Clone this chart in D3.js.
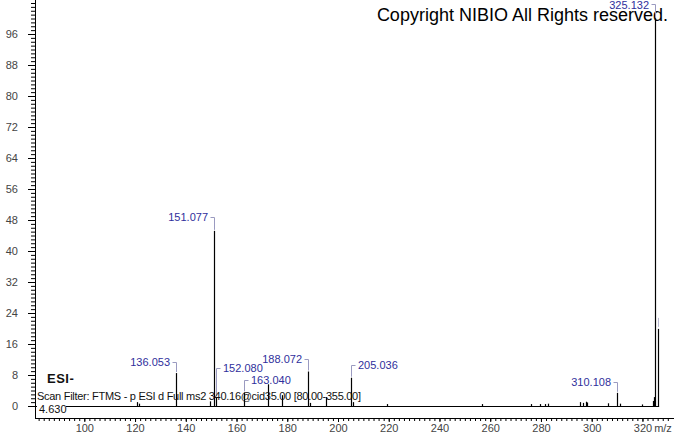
<!DOCTYPE html>
<html>
<head>
<meta charset="utf-8">
<script src="https://cdn.jsdelivr.net/npm/d3@7"></script>
<style>
  body { margin: 0; background: #fff; }
  svg { display: block; font-family: "Liberation Sans", Arial, sans-serif; }
</style>
</head>
<body>
<div id="chart"></div>
<script>
// spectrum peaks (m/z, relative abundance)
var peakMz  = [120.9, 121.6, 136.053, 149.6, 151.077, 152.080, 163.040, 172.6, 178.1, 188.072, 189.1, 195.1,
               205.036, 206.0, 219.2, 256.6, 276.2, 279.5, 281.5, 282.6, 295.2, 296.4, 297.8, 298.2,
               306.4, 310.108, 311.3, 319.7, 324.0, 324.6, 325.132, 326.135];
var peakInt = [1.0, 0.6, 8.5, 1.2, 45.2, 2.3, 3.5, 5.6, 2.8, 8.9, 0.8, 2.3,
               7.3, 1.0, 0.5, 0.5, 0.5, 0.5, 0.5, 0.6, 1.0, 0.8, 1.1, 0.9,
               0.7, 3.4, 0.6, 0.4, 1.3, 2.3, 100, 19.9];

// annotated peaks
var labelMz   = [136.053, 151.077, 152.080, 163.040, 188.072, 205.036, 310.108, 325.132];
var labelText = ["136.053", "151.077", "152.080", "163.040", "188.072", "205.036", "310.108", "325.132"];
var labelSide = ["left", "left", "right", "right", "left", "right", "left", "left"];

var xTicks = d3.range(100, 321, 20);
var yTicks = d3.range(0, 97, 8);

var W = 674, H = 434;
var BASE_Y = 406, AXIS_Y = 418, AXIS_X = 35;
// pixel lift of each label above its peak top
var LABEL_LIFT = [10, 13, 28, 11, 12, 12, 10, 13];

var x = d3.scaleLinear().domain([100, 320]).range([84.3, 84.3 + 220 * 2.537]);
var y = d3.scaleLinear().domain([0, 96]).range([BASE_Y, BASE_Y - 96 * 3.875]);

var svg = d3.select("#chart").append("svg")
    .attr("width", W)
    .attr("height", H);

// copyright
svg.append("text")
    .attr("x", 668).attr("y", 21)
    .attr("text-anchor", "end")
    .attr("font-size", 18)
    .attr("fill", "#000")
    .text("Copyright NIBIO All Rights reserved.");

// y axis
var yMinor = svg.append("g").attr("transform", "translate(" + AXIS_X + ",0)")
    .call(d3.axisLeft(y).tickValues(d3.range(0, 105, 1)).tickSize(4).tickFormat(""));
yMinor.select(".domain").remove();
var yMajor = svg.append("g").attr("transform", "translate(" + AXIS_X + ",0)")
    .call(d3.axisLeft(y).tickValues(yTicks).tickSize(7).tickPadding(10));
yMajor.select(".domain").remove();
yMajor.selectAll("text").attr("font-size", 11).attr("fill", "#444").attr("font-family", "Liberation Sans, Arial");
svg.selectAll(".tick line").attr("stroke", "#000");

svg.append("line")
    .attr("x1", AXIS_X + 0.5).attr("x2", AXIS_X + 0.5)
    .attr("y1", 0).attr("y2", AXIS_Y)
    .attr("stroke", "#000");

// x axis
var xMinor = svg.append("g").attr("transform", "translate(0," + AXIS_Y + ")")
    .call(d3.axisBottom(x).tickValues(d3.range(82, 332, 2)).tickSize(3).tickFormat(""));
xMinor.select(".domain").remove();
var xMajor = svg.append("g").attr("transform", "translate(0," + AXIS_Y + ")")
    .call(d3.axisBottom(x).tickValues(xTicks).tickSize(4).tickPadding(2));
xMajor.select(".domain").remove();
xMajor.selectAll("text").attr("font-size", 11).attr("fill", "#444").attr("font-family", "Liberation Sans, Arial");
xMajor.selectAll(".tick line").attr("stroke", "#000");
xMinor.selectAll(".tick line").attr("stroke", "#000");

svg.append("line")
    .attr("x1", AXIS_X).attr("x2", W)
    .attr("y1", AXIS_Y + 0.5).attr("y2", AXIS_Y + 0.5)
    .attr("stroke", "#000");

svg.append("text")
    .attr("x", 663).attr("y", 432)
    .attr("text-anchor", "middle")
    .attr("font-size", 11).attr("fill", "#444")
    .text("m/z");

// baseline of the trace
svg.append("line")
    .attr("x1", AXIS_X).attr("x2", x(326.6))
    .attr("y1", BASE_Y + 0.5).attr("y2", BASE_Y + 0.5)
    .attr("stroke", "#000");

// sticks
svg.selectAll("line.peak")
    .data(peakMz)
    .enter().append("line")
    .attr("class", "peak")
    .attr("x1", function (d) { return Math.round(x(d)) + 0.5; })
    .attr("x2", function (d) { return Math.round(x(d)) + 0.5; })
    .attr("y1", BASE_Y)
    .attr("y2", function (d, i) { return y(peakInt[i]); })
    .attr("stroke", "#000")
    .attr("stroke-width", 1.2);

// peak labels
var lab = svg.selectAll("g.lab")
    .data(labelMz)
    .enter().append("g")
    .attr("class", "lab");

function topOf(mz) {
    return y(peakInt[peakMz.indexOf(mz)]);
}

lab.append("path")
    .attr("d", function (d, i) {
        var px = Math.round(x(d)) + 0.5;
        var top = topOf(d) - 1;
        var ly = Math.round(top - LABEL_LIFT[i]) + 0.5;
        var hx = labelSide[i] === "left" ? px - 4 : px + 4;
        return "M" + hx + "," + ly + "H" + px + "V" + top;
    })
    .attr("fill", "none")
    .attr("stroke", "#9a9ac0")
    .attr("stroke-width", 1);

lab.append("text")
    .attr("x", function (d, i) {
        var px = Math.round(x(d));
        return labelSide[i] === "left" ? px - 6 : px + 7;
    })
    .attr("y", function (d, i) { return topOf(d) - 1 - LABEL_LIFT[i] + 4; })
    .attr("text-anchor", function (d, i) { return labelSide[i] === "left" ? "end" : "start"; })
    .attr("font-size", 11)
    .attr("fill", "#2f2f9c")
    .text(function (d, i) { return labelText[i]; });

// isotope connector without text
svg.append("line")
    .attr("x1", Math.round(x(326.135)) + 0.5).attr("x2", Math.round(x(326.135)) + 0.5)
    .attr("y1", y(19.9) - 11).attr("y2", y(19.9) - 2)
    .attr("stroke", "#b8b8d0");

// scan info
svg.append("text")
    .attr("x", 47).attr("y", 383)
    .attr("font-size", 13).attr("font-weight", "bold")
    .attr("fill", "#111")
    .attr("letter-spacing", 0.5)
    .text("ESI-");

svg.append("text")
    .attr("x", 37).attr("y", 400)
    .attr("font-size", 11)
    .attr("textLength", 324)
    .attr("fill", "#111")
    .text("Scan Filter: FTMS - p ESI d Full ms2 340.16@cid35.00 [80.00-355.00]");

svg.append("rect")
    .attr("x", 37).attr("y", 404).attr("width", 29).attr("height", 11)
    .attr("fill", "#fff");
svg.append("text")
    .attr("x", 39).attr("y", 413)
    .attr("font-size", 11)
    .attr("fill", "#111")
    .text("4.630");
</script>
</body>
</html>
